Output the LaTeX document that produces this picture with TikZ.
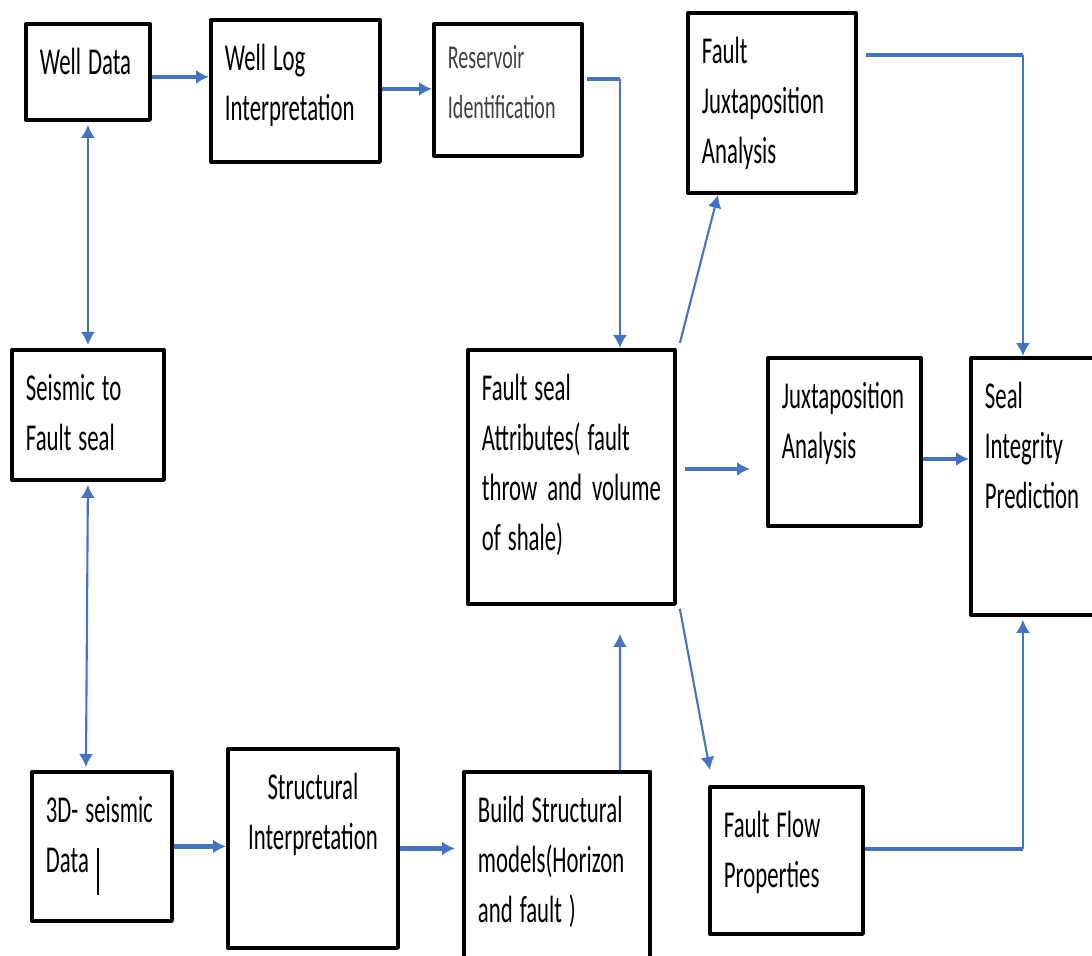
\documentclass[tikz,border=0pt]{standalone}
\usepackage{fontspec}
\setmainfont{Carlito}[FakeStretch=0.6]
\usetikzlibrary{arrows.meta}
\definecolor{linkblue}{HTML}{4472C4}

\begin{document}
\begin{tikzpicture}[>={Latex[length=1.3mm,width=1.4mm]}, font=\fontsize{10.8}{14.2}\selectfont, line join=round,
	box/.style={draw, line width=1.1pt, inner xsep=0.14cm, inner ysep=0pt, align=left, text height=0.51cm, anchor=north west,
		execute at begin node={\spaceskip=0.07cm\xspaceskip=0.07cm\hyphenpenalty=10000\relax}},
	bx/.style 2 args={text width=#1cm-0.28cm, text depth=#2cm-0.51cm},
	thk/.style={draw=linkblue, line width=1.3pt, ->},
	thn/.style={draw=linkblue, line width=0.6pt, ->},
	stub/.style={draw=linkblue, line width=1.3pt}]
	\useasboundingbox (0,0) rectangle (10.92,9.55);
	\node[box, bx={1.24}{0.96}] (wd) at (0.24,9.33) {Well Data};
	\node[box, bx={1.69}{1.42}] (wli) at (2.09,9.37) {Well Log\\Interpretation};
	\node[box, bx={1.48}{1.38}, text height=0.45cm, text=black!75, font=\fontsize{9.5}{14.2}\selectfont] (ri) at (4.32,9.33) {Reservoir\\Identification};
	\node[box, bx={1.68}{1.80}] (fja) at (6.86,9.44) {Fault\\Juxtaposition\\Analysis};
	\node[box, bx={1.52}{1.30}] (sfs) at (0.10,6.07) {Seismic to\\Fault seal};
	\node[box, bx={2.07}{2.54}] (fsa) at (4.66,6.07) {Fault seal\\Attributes( fault\\throw\hfill and\hfill volume\\of shale)};
	\node[box, bx={1.53}{1.68}] (ja) at (7.66,5.99) {Juxtaposition\\Analysis};
	\node[box, bx={1.40}{2.57}] (sip) at (9.69,5.99) {Seal\\Integrity\\Prediction};
	\node[box, bx={1.40}{1.49}] (tds) at (0.30,1.85) {3D- seismic\\Data\hspace{0.08cm}\rule[-0.22cm]{0.6pt}{0.47cm}};
	\node[box, bx={1.70}{1.99}, align=center] (si) at (2.26,2.08) {Structural\\Interpretation};
	\node[box, bx={1.86}{2.00}] (bsm) at (4.62,1.85) {Build Structural\\models(Horizon\\and fault )};
	\node[box, bx={1.53}{1.47}] (ffp) at (7.08,1.70) {Fault Flow\\Properties};
	\coordinate (r1) at ([xshift=.03cm,yshift=.11cm]ri.east);
	\coordinate (r2) at ([xshift=.485cm]fsa.north);
	\coordinate (j1) at ([xshift=.08cm,yshift=.48cm]fja.east);
	\coordinate (j2) at ([xshift=-.18cm]sip.north);
	\coordinate (f1) at ([yshift=.115cm]ffp.east);
	\coordinate (f2) at ([xshift=-.18cm,yshift=-.03cm]sip.south);
	\draw[thk] ([yshift=-.05cm]wd.east) -- ([yshift=-.05cm]wd.east -| wli.west);
	\draw[thk] ([yshift=.02cm]wli.east) -- ([yshift=.02cm]wli.east -| ri.west);
	\draw[stub] (r1) -- (r1 -| r2);
	\draw[thn] (r1 -| r2) -- (r2);
	\draw[thn] ([xshift=.03cm,yshift=.05cm]fsa.north east) -- ([xshift=-.54cm]fja.south);
	\draw[stub] (j1) -- (j1 -| j2);
	\draw[thn] (j1 -| j2) -- (j2);
	\draw[thk] ([xshift=.08cm,yshift=.08cm]fsa.east) -- ([xshift=-.16cm,yshift=.08cm]fsa.east -| ja.west);
	\draw[thk] ([yshift=-.17cm]ja.east) -- ([yshift=-.17cm]ja.east -| sip.west);
	\draw[thn] ([xshift=.03cm,yshift=-.03cm]fsa.south east) -- ([xshift=-.765cm,yshift=.15cm]ffp.north);
	\draw[thn] ([xshift=.63cm]bsm.north) -- ([xshift=.485cm,yshift=-.28cm]fsa.south);
	\draw[stub] (f1) -- (f1 -| f2);
	\draw[thn] (f1 -| f2) -- (f2);
	\draw[thk] (si.east) -- ([xshift=-.07cm]si.east -| bsm.west);
	\draw[thk] (tds.east) -- (tds.east -| si.west);
	\draw[thn, <->, shorten <=.03cm, shorten >=.03cm] (wd.south) -- (sfs.north);
	\draw[thn, <->, shorten <=.03cm, shorten >=.03cm] (sfs.south) -- ([xshift=-.16cm]tds.north);
\end{tikzpicture}
\end{document}
